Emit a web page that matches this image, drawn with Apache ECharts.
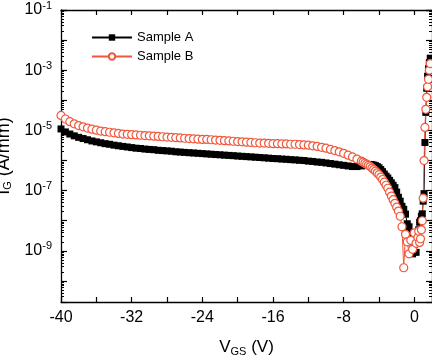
<!DOCTYPE html>
<html>
<head>
<meta charset="utf-8">
<script src="https://cdn.jsdelivr.net/npm/echarts@6/dist/echarts.min.js"></script>
<style>
html,body{margin:0;padding:0;background:#fff;}
#chart{width:432px;height:359px;}
</style>
</head>
<body>
<div id="chart"></div>
<script>
// Gate voltage (V)
var voltage = [
 -40,-39.5,-39,-38.5,-38,-37.5,-37,-36.5,-36,-35.5,-35,-34.5,-34,-33.5,-33,-32.5,-32,-31.5,-31,-30.5,
 -30,-29.5,-29,-28.5,-28,-27.5,-27,-26.5,-26,-25.5,-25,-24.5,-24,-23.5,-23,-22.5,-22,-21.5,-21,-20.5,
 -20,-19.5,-19,-18.5,-18,-17.5,-17,-16.5,-16,-15.5,-15,-14.5,-14,-13.5,-13,-12.5,-12,-11.5,-11,-10.5,
 -10,-9.5,-9,-8.5,-8,-7.5,-7,-6.5,-6,
 -5.8,-5.6,-5.4,-5.2,-5.0,-4.8,-4.6,-4.4,-4.2,-4.0,-3.8,-3.6,-3.4,-3.2,-3.0,-2.8,-2.6,-2.4,-2.2,-2.0,
 -1.8,-1.6,-1.4,-1.2,-1.0,-0.8,-0.6,-0.4,-0.2,0.0,0.2,0.4,
 0.5,0.6,0.7,0.8,0.9,1.0,1.1,1.2,1.3,1.4,1.5,1.6,1.7,1.8
];
// Gate current, Sample A (A/mm)
var sampleA = [
 1.12e-5,8.91e-6,7.59e-6,6.61e-6,5.89e-6,5.37e-6,4.90e-6,4.47e-6,4.17e-6,3.89e-6,3.63e-6,3.47e-6,3.24e-6,3.09e-6,2.95e-6,2.82e-6,2.69e-6,2.57e-6,2.51e-6,2.40e-6,
 2.34e-6,2.29e-6,2.19e-6,2.14e-6,2.09e-6,2.04e-6,1.95e-6,1.91e-6,1.86e-6,1.82e-6,1.78e-6,1.74e-6,1.70e-6,1.66e-6,1.62e-6,1.58e-6,1.55e-6,1.51e-6,1.48e-6,1.45e-6,
 1.41e-6,1.38e-6,1.35e-6,1.32e-6,1.29e-6,1.26e-6,1.23e-6,1.20e-6,1.17e-6,1.15e-6,1.12e-6,1.10e-6,1.07e-6,1.05e-6,1.02e-6,1.00e-6,9.55e-7,9.33e-7,8.91e-7,8.71e-7,
 8.32e-7,7.94e-7,7.59e-7,7.24e-7,6.92e-7,6.61e-7,6.31e-7,6.31e-7,6.61e-7,
 6.92e-7,7.24e-7,7.41e-7,7.41e-7,7.41e-7,7.24e-7,7.08e-7,6.76e-7,6.31e-7,5.75e-7,5.01e-7,4.27e-7,3.55e-7,3.02e-7,2.63e-7,2.19e-7,1.82e-7,1.51e-7,1.26e-7,8.91e-8,
 6.03e-8,4.47e-8,3.02e-8,2.40e-8,1.66e-8,7.94e-9,6.31e-9,3.98e-9,7.94e-10,1.66e-9,8.91e-10,2.82e-9,
 5.01e-9,8.91e-9,1.00e-8,1.41e-8,1.70e-8,4.47e-8,7.94e-8,3.98e-6,3.98e-5,2.51e-4,6.31e-4,1.12e-3,1.78e-3,2.51e-3
];
// Gate current, Sample B (A/mm)
var sampleB = [
 3.16e-5,2.40e-5,1.95e-5,1.66e-5,1.45e-5,1.32e-5,1.20e-5,1.10e-5,1.02e-5,9.55e-6,9.12e-6,8.71e-6,8.32e-6,7.94e-6,7.59e-6,7.41e-6,7.24e-6,7.08e-6,6.92e-6,6.76e-6,
 6.61e-6,6.46e-6,6.31e-6,6.17e-6,6.03e-6,5.89e-6,5.75e-6,5.62e-6,5.50e-6,5.37e-6,5.25e-6,5.13e-6,5.01e-6,5.01e-6,4.90e-6,4.79e-6,4.68e-6,4.57e-6,4.47e-6,4.37e-6,
 4.27e-6,4.17e-6,4.07e-6,3.98e-6,3.89e-6,3.80e-6,3.80e-6,3.72e-6,3.63e-6,3.63e-6,3.55e-6,3.55e-6,3.47e-6,3.47e-6,3.39e-6,3.31e-6,3.24e-6,3.09e-6,2.95e-6,2.75e-6,
 2.57e-6,2.34e-6,2.14e-6,1.95e-6,1.74e-6,1.51e-6,1.32e-6,1.12e-6,9.55e-7,
 8.91e-7,8.13e-7,7.59e-7,6.92e-7,6.31e-7,5.62e-7,5.01e-7,4.47e-7,3.89e-7,3.39e-7,2.82e-7,2.34e-7,1.91e-7,1.51e-7,1.20e-7,8.91e-8,6.61e-8,5.01e-8,3.80e-8,2.82e-8,
 2.09e-8,1.41e-8,6.31e-9,2.75e-10,3.55e-9,2.00e-9,7.94e-10,2.24e-9,1.12e-9,3.98e-9,1.78e-9,2.82e-9,
 4.47e-9,1.91e-9,2.51e-9,5.01e-9,1.00e-8,5.62e-8,1.00e-6,1.26e-5,5.01e-5,1.26e-4,2.82e-4,5.01e-4,1.00e-3,1.66e-3
];
var seriesNames = ['Sample A', 'Sample B'];
var xTickLabels = [-40, -32, -24, -16, -8, 0];
var yTickExponents = [-1, -3, -5, -7, -9];

var FONT = 'Liberation Sans, Arial, sans-serif';
var RED = '#f0583c';

function pairs(xs, ys) {
  var out = [];
  for (var i = 0; i < xs.length; i++) out.push([xs[i], ys[i]]);
  return out;
}
function yLabel(v) {
  if (!(v > 0)) return '';
  var e = Math.round(Math.log10(v));
  if (Math.abs(Math.log10(v) - e) > 1e-6) return '';
  if (yTickExponents.indexOf(e) < 0) return '';
  return '{b|10}{s|' + e + '}';
}
function xLabel(v) {
  return xTickLabels.indexOf(v) >= 0 ? String(v) : '';
}

var axisLineStyle = { color: '#000', width: 1.3 };
var chart = echarts.init(document.getElementById('chart'), null, { renderer: 'canvas' });
var yBase = {
  type: 'log', min: 2e-11, max: 0.1, logBase: 10,
  axisLine: { show: true, onZero: false, lineStyle: axisLineStyle },
  axisTick: { show: true, inside: true, length: 6, lineStyle: { color: '#000', width: 1.2 } },
  minorTick: { show: true, splitNumber: 9, length: 3, lineStyle: { color: '#000', width: 1 } },
  splitLine: { show: false }
};
var xBase = {
  type: 'value', min: -40, max: 2, interval: 4,
  axisLine: { show: true, onZero: false, lineStyle: axisLineStyle },
  axisTick: { show: true, inside: true, length: 5, lineStyle: { color: '#000', width: 1.2 } },
  splitLine: { show: false }
};

chart.setOption({
  animation: false,
  backgroundColor: '#fff',
  grid: { left: 61, right: 0, top: 10, bottom: 57, containLabel: false, outerBoundsMode: 'none' },
  legend: {
    orient: 'vertical', left: 86, top: 26, itemGap: 6,
    itemWidth: 40, itemHeight: 8,
    textStyle: { fontFamily: FONT, fontSize: 13, color: '#000' },
    data: seriesNames
  },
  xAxis: [
    Object.assign({}, xBase, {
      position: 'bottom',
      axisLabel: { formatter: xLabel, fontFamily: FONT, fontSize: 16, color: '#000', margin: 8 },
      name: '{v|V}{s|GS}{v| (V)}', nameLocation: 'middle', nameGap: 36,
      nameTextStyle: { rich: {
        v: { fontFamily: FONT, fontSize: 17, color: '#000' },
        s: { fontFamily: FONT, fontSize: 11, color: '#000', padding: [8, 0, 0, 0] }
      } }
    }),
    Object.assign({}, xBase, { position: 'top', axisLabel: { show: false } })
  ],
  yAxis: [
    Object.assign({}, yBase, {
      position: 'left',
      axisLabel: { formatter: yLabel, margin: 9, rich: {
        b: { fontFamily: FONT, fontSize: 16, color: '#000' },
        s: { fontFamily: FONT, fontSize: 11, color: '#000', padding: [0, 0, 9, 0] }
      } },
      name: '{i|I}{s|G}{i| (A/mm)}', nameLocation: 'middle', nameGap: 43, nameRotate: 90,
      nameTextStyle: { rich: {
        i: { fontFamily: FONT, fontSize: 18, color: '#000' },
        s: { fontFamily: FONT, fontSize: 11, color: '#000', padding: [8, 0, 0, 0] }
      } }
    }),
    Object.assign({}, yBase, { position: 'right', axisLabel: { show: false } })
  ],
  series: [
    {
      name: seriesNames[0], type: 'line', xAxisIndex: 0, yAxisIndex: 0,
      data: pairs(voltage, sampleA),
      symbol: 'rect', symbolSize: 7, showSymbol: true,
      itemStyle: { color: '#000' },
      lineStyle: { color: '#000', width: 1 }
    },
    {
      name: seriesNames[1], type: 'line', xAxisIndex: 0, yAxisIndex: 0,
      data: pairs(voltage, sampleB),
      symbol: 'circle', symbolSize: 8, showSymbol: true,
      itemStyle: { color: '#fff', borderColor: RED, borderWidth: 1.2 },
      lineStyle: { color: RED, width: 1 }
    }
  ]
});
</script>
</body>
</html>
